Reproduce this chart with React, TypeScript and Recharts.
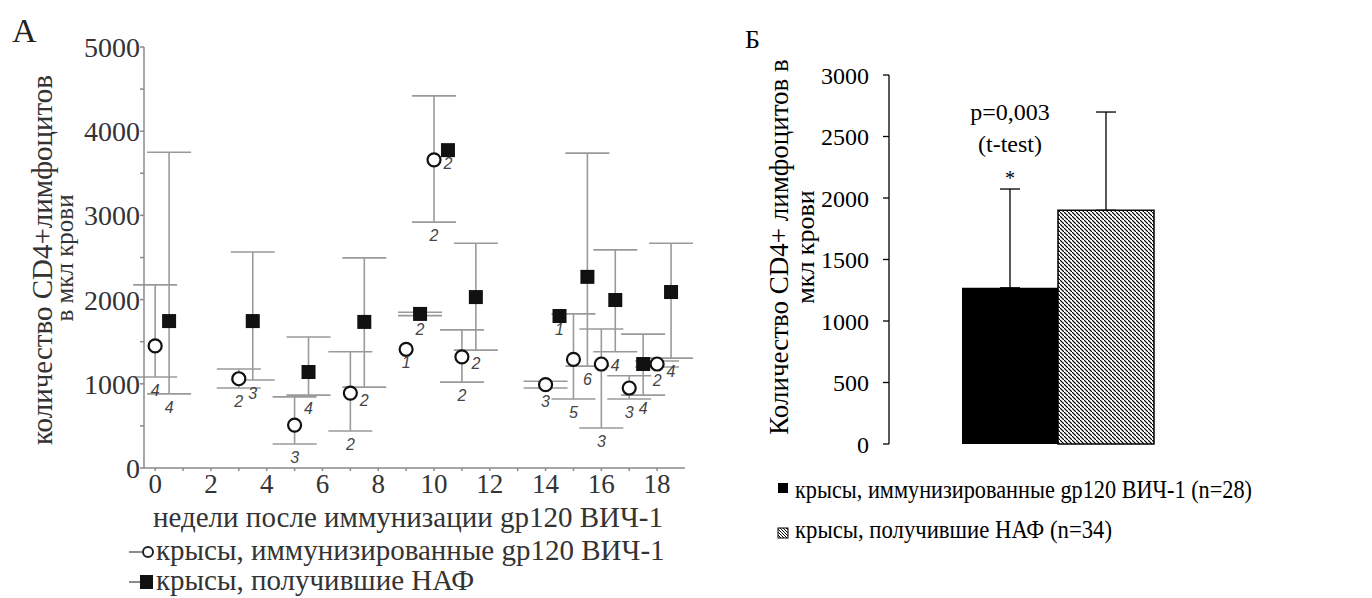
import React from "react";
import {
  ScatterChart,
  Scatter,
  XAxis,
  YAxis,
  ErrorBar,
  BarChart,
  Bar,
  LabelList,
} from "recharts";

// panel A: immunized rats (open circles)
const weeksImm = [0, 3, 5, 7, 9, 10, 11, 14, 15, 16, 17, 18];
const meanImm = [1450, 1060, 510, 890, 1410, 3660, 1320, 990, 1290, 1235, 950, 1235];
const lowImm = [1080, 950, 285, 440, 1410, 2920, 1020, 950, 820, 475, 820, 1200];
const highImm = [2175, 1175, 845, 1380, 1410, 4420, 1640, 1030, 1830, 1650, 1095, 1270];
const nImm = [4, 2, 3, 2, 1, 2, 2, 3, 5, 3, 3, 2];

// panel A: rats given НАФ (filled squares)
const weeksNaf = [0.5, 3.5, 5.5, 7.5, 9.5, 10.5, 11.5, 14.5, 15.5, 16.5, 17.5, 18.5];
const meanNaf = [1745, 1745, 1140, 1735, 1830, 3775, 2030, 1805, 2270, 1995, 1235, 2090];
const lowNaf = [880, 1045, 865, 960, 1810, 3775, 1400, 1805, 1210, 1380, 865, 1305];
const highNaf = [3750, 2565, 1555, 2495, 1850, 3775, 2670, 1805, 3740, 2590, 1590, 2670];
const nNaf = [4, 3, 4, 2, 2, 2, 2, 1, 6, 4, 4, 4];

const xTicksA = Array.from({ length: 19 }, (_, i) => i);
const yTicksA = [0, 500, 1000, 1500, 2000, 2500, 3000, 3500, 4000, 4500, 5000];

// panel Б
const groupsB = ["imm", "naf"];
const meanB = [1270, 1900];
const sdB = [803, 799];
const yTicksB = [0, 500, 1000, 1500, 2000, 2500, 3000];

const serif = "Liberation Serif, DejaVu Serif, Noto Serif, serif";

const toPoints = (weeks: number[], mean: number[], low: number[], high: number[]) =>
  weeks.map((w, i) => ({
    x: w,
    y: mean[i],
    // no error bar where the spread is zero
    err: low[i] === high[i] ? null : [mean[i] - low[i], high[i] - mean[i]],
  }));

const immData = toPoints(weeksImm, meanImm, lowImm, highImm);
const nafData = toPoints(weeksNaf, meanNaf, lowNaf, highNaf);

// n labels sit under the lower end of each error bar
const nLabels = [
  ...weeksImm.map((w, i) => ({ x: w, y: lowImm[i], n: nImm[i] })),
  ...weeksNaf.map((w, i) => ({ x: w, y: lowNaf[i], n: nNaf[i] })),
];

const barData = [
  {
    g: "",
    [groupsB[0]]: meanB[0],
    [groupsB[1]]: meanB[1],
    immErr: [0, sdB[0]],
    nafErr: [0, sdB[1]],
  },
];

const CircleDot = (props: any) => (
  <circle cx={props.cx} cy={props.cy} r={6.5} fill="#fff" stroke="#111" strokeWidth={2.2} />
);
const SquareDot = (props: any) => (
  <rect x={props.cx - 7} y={props.cy - 7} width={14} height={14} fill="#111" />
);
const NLabel = (props: any) => (
  <text
    x={props.cx}
    y={props.cy + 19}
    textAnchor="middle"
    style={{ fontFamily: "Liberation Sans, Arial, sans-serif", fontStyle: "italic" }}
    fontSize={16}
    fill="#444"
  >
    {props.payload.n}
  </text>
);

const Annotation = (props: any) => {
  const cx = props.x + props.width / 2;
  const top = props.y;
  return (
    <g style={{ fontFamily: serif }} fill="#000" textAnchor="middle">
      <text x={cx} y={top - 168} fontSize={24}>p=0,003</text>
      <text x={cx} y={top - 136} fontSize={24}>(t-test)</text>
      <text x={cx} y={top - 103} fontSize={20}>*</text>
    </g>
  );
};

export default function App() {
  return (
    <div
      style={{
        position: "absolute",
        left: 0,
        top: 0,
        width: 1372,
        height: 598,
        background: "#fff",
        fontFamily: serif,
      }}
    >
      <div style={{ position: "absolute", left: 0, top: 0 }}>
        <ScatterChart width={720} height={598} margin={{ top: 47, right: 35, left: 84, bottom: 100 }}>
          <XAxis
            type="number"
            dataKey="x"
            domain={[-0.4, 19]}
            ticks={xTicksA}
            interval={0}
            tickFormatter={(v) => (v % 2 === 0 ? String(v) : "")}
            height={30}
            stroke="#8a8a8a"
            strokeWidth={1.5}
            tickSize={3}
            tickMargin={3}
            tick={{ fontSize: 27, fontFamily: serif, fill: "#333" }}
          />
          <YAxis
            type="number"
            dataKey="y"
            domain={[0, 5000]}
            ticks={yTicksA}
            interval={0}
            tickFormatter={(v) => (v % 1000 === 0 ? String(v) : "")}
            width={60}
            stroke="#8a8a8a"
            strokeWidth={1.5}
            tickSize={4}
            tickMargin={0}
            tick={{ fontSize: 28, fontFamily: serif, fill: "#333" }}
          />
          <Scatter data={immData} shape={CircleDot} isAnimationActive={false}>
            <ErrorBar dataKey="err" direction="y" width={22} stroke="#9a9a9a" strokeWidth={1.6} />
          </Scatter>
          <Scatter data={nafData} shape={SquareDot} isAnimationActive={false}>
            <ErrorBar dataKey="err" direction="y" width={22} stroke="#9a9a9a" strokeWidth={1.6} />
          </Scatter>
          <Scatter data={nLabels} shape={NLabel} isAnimationActive={false} />
        </ScatterChart>
      </div>

      <div style={{ position: "absolute", left: 740, top: 0 }}>
        <BarChart
          width={632}
          height={598}
          data={barData}
          barGap={0}
          margin={{ top: 75, right: 146, left: 69, bottom: 154 }}
        >
          <defs>
            <pattern id="hatch" width={4} height={4} patternUnits="userSpaceOnUse">
              <path d="M-1,-1 l2,2 M0,0 l4,4 M3,3 l2,2" stroke="#000" strokeWidth={1.2} />
            </pattern>
          </defs>
          <XAxis dataKey="g" hide />
          <YAxis
            domain={[0, 3000]}
            ticks={yTicksB}
            interval={0}
            width={80}
            stroke="#000"
            strokeWidth={1.3}
            tickSize={6}
            tickMargin={14}
            tick={{ fontSize: 24, fontFamily: serif, fill: "#000" }}
          />
          <Bar dataKey="imm" fill="#000" barSize={96} isAnimationActive={false}>
            <ErrorBar dataKey="immErr" direction="y" width={10} stroke="#000" strokeWidth={1.3} />
            <LabelList content={Annotation} />
          </Bar>
          <Bar dataKey="naf" fill="url(#hatch)" stroke="#000" strokeWidth={1.5} barSize={96} isAnimationActive={false}>
            <ErrorBar dataKey="nafErr" direction="y" width={10} stroke="#000" strokeWidth={1.3} />
          </Bar>
        </BarChart>
      </div>

      <svg
        width={1372}
        height={598}
        style={{ position: "absolute", left: 0, top: 0, pointerEvents: "none", fontFamily: serif }}
      >
        <defs>
          <pattern id="hatchLegend" width={3} height={3} patternUnits="userSpaceOnUse">
            <path d="M-1,-1 l2,2 M0,0 l3,3 M2,2 l2,2" stroke="#000" strokeWidth={0.9} />
          </pattern>
        </defs>
        {/* panel A texts */}
        <text x={12} y={42} fontSize={34} fill="#222">A</text>
        <text transform="translate(52,260) rotate(-90)" textAnchor="middle" fontSize={29} fill="#333">
          количество CD4+лимфоцитов
        </text>
        <text transform="translate(73,258) rotate(-90)" textAnchor="middle" fontSize={25} fill="#333">
          в мкл крови
        </text>
        <text x={408} y={527} textAnchor="middle" fontSize={29} fill="#333">
          недели после иммунизации gp120 ВИЧ-1
        </text>
        <line x1={129} y1={552} x2={142} y2={552} stroke="#666" strokeWidth={1.5} />
        <circle cx={148} cy={552} r={5} fill="#fff" stroke="#222" strokeWidth={2} />
        <text x={156} y={560} fontSize={29} fill="#333">крысы, иммунизированные gp120 ВИЧ-1</text>
        <line x1={129} y1={582} x2={140} y2={582} stroke="#666" strokeWidth={1.5} />
        <rect x={140} y={575} width={13} height={14} fill="#111" />
        <text x={156} y={590} fontSize={29} fill="#333">крысы, получившие НАФ</text>

        {/* panel Б texts */}
        <text x={745} y={48} fontSize={26} fill="#000">Б</text>
        <text transform="translate(788,247) rotate(-90)" textAnchor="middle" fontSize={27} fill="#000">
          Количество CD4+ лимфоцитов в
        </text>
        <text transform="translate(814,247) rotate(-90)" textAnchor="middle" fontSize={26} fill="#000">
          мкл крови
        </text>
        <rect x={778} y={483} width={10} height={10} fill="#000" />
        <text x={795} y={498} fontSize={25} fill="#000" textLength={457} lengthAdjust="spacingAndGlyphs">
          крысы, иммунизированные gp120 ВИЧ-1  (n=28)
        </text>
        <rect x={778} y={528} width={10} height={10} fill="url(#hatchLegend)" stroke="#000" strokeWidth={1} />
        <text x={795} y={538} fontSize={25} fill="#000" textLength={317} lengthAdjust="spacingAndGlyphs">
          крысы, получившие НАФ  (n=34)
        </text>
      </svg>
    </div>
  );
}
